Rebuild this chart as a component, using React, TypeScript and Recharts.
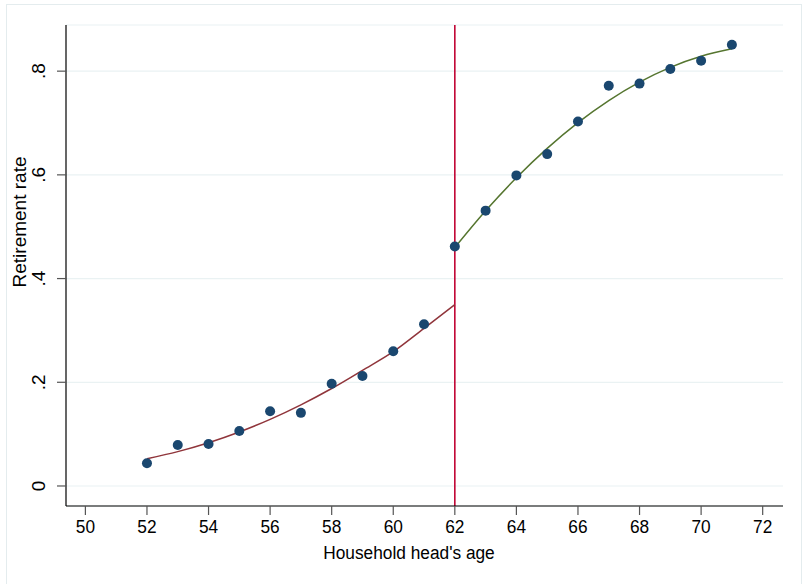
import React from "react";
import {
  ComposedChart,
  Scatter,
  Line,
  XAxis,
  YAxis,
  CartesianGrid,
  ReferenceLine,
} from "recharts";

const ages = [52, 53, 54, 55, 56, 57, 58, 59, 60, 61, 62, 63, 64, 65, 66, 67, 68, 69, 70, 71];
const rates = [
  0.044, 0.079, 0.081, 0.106, 0.144, 0.141, 0.197, 0.212, 0.26, 0.312,
  0.462, 0.531, 0.599, 0.64, 0.703, 0.772, 0.776, 0.804, 0.82, 0.851,
];

const leftAges = [52, 53, 54, 55, 56, 57, 58, 59, 60, 61, 62];
const leftFit = [0.0527, 0.0663, 0.0835, 0.1042, 0.1285, 0.1565, 0.188, 0.223, 0.259, 0.304, 0.3497];

const rightAges = [62, 63, 64, 65, 66, 67, 68, 69, 70, 71];
const rightFit = [0.4597, 0.5306, 0.5944, 0.651, 0.7007, 0.7433, 0.7788, 0.8073, 0.8286, 0.843];

const xTicks = [50, 52, 54, 56, 58, 60, 62, 64, 66, 68, 70, 72];
const yTicks = [0, 0.2, 0.4, 0.6, 0.8];
const yTickLabels = ["0", ".2", ".4", ".6", ".8"];
const cutoff = 62;

const points = ages.map((a, i) => ({ age: a, rate: rates[i] }));
const leftLine = leftAges.map((a, i) => ({ age: a, fit: leftFit[i] }));
const rightLine = rightAges.map((a, i) => ({ age: a, fit: rightFit[i] }));

const FONT = "'Liberation Sans', Arial, sans-serif";

const XTick = (props: any) => {
  const { x, y, payload } = props;
  return (
    <g transform={`translate(${x},${y + 10})`}>
      <text
        x={0}
        y={0}
        textAnchor="middle"
        dominantBaseline="central"
        fontFamily={FONT}
        fontSize={19}
        fill="#000"
        transform="scale(0.91,1)"
      >
        {payload.value}
      </text>
    </g>
  );
};

const YTick = (props: any) => {
  const { x, y, payload } = props;
  const idx = yTicks.indexOf(payload.value);
  const label = idx >= 0 ? yTickLabels[idx] : String(payload.value);
  return (
    <g transform={`translate(${x - 17},${y}) rotate(-90)`}>
      <text
        x={0}
        y={0}
        textAnchor="middle"
        dominantBaseline="central"
        fontFamily={FONT}
        fontSize={19}
        fill="#000"
      >
        {label}
      </text>
    </g>
  );
};

const Dot = (props: any) => {
  const { cx, cy } = props;
  if (cx == null || cy == null) return null;
  return <circle cx={cx} cy={cy} r={5} fill="#1a476f" />;
};

export default function App() {
  return (
    <div
      style={{
        position: "fixed",
        left: 0,
        top: 0,
        width: 804,
        height: 584,
        background: "#fff",
        overflow: "hidden",
      }}
    >
      <div
        style={{
          position: "absolute",
          left: 6,
          top: 4,
          width: 796,
          height: 600,
          border: "1px solid #e4ecee",
          boxSizing: "border-box",
        }}
      />
      <div style={{ position: "absolute", left: 0, top: 0 }}>
        <ComposedChart
          width={804}
          height={584}
          margin={{ top: 25, right: 21, left: 0, bottom: 0 }}
        >
          <CartesianGrid horizontal vertical={false} stroke="#eaf2f3" strokeWidth={1.2} />
          <XAxis
            type="number"
            dataKey="age"
            domain={[49.37, 72.66]}
            ticks={xTicks}
            allowDataOverflow
            height={78}
            tickSize={9}
            tickMargin={2}
            stroke="#000"
            tickLine={{ stroke: "#555", strokeWidth: 1.2 }}
            axisLine={{ stroke: "#000", strokeWidth: 1.2 }}
            tick={<XTick />}
            interval={0}
            label={{
              content: () => (
                <g transform="translate(409,553)">
                  <text
                    x={0}
                    y={0}
                    textAnchor="middle"
                    dominantBaseline="central"
                    fontFamily={FONT}
                    fontSize={19}
                    fill="#000"
                    transform="scale(0.91,1)"
                  >
                    Household head's age
                  </text>
                </g>
              ),
            }}
          />
          <YAxis
            type="number"
            domain={[-0.0386, 0.889]}
            ticks={yTicks}
            allowDataOverflow
            width={66}
            tickSize={9}
            tickMargin={2}
            tickLine={{ stroke: "#555", strokeWidth: 1.2 }}
            axisLine={{ stroke: "#000", strokeWidth: 1.2 }}
            tick={<YTick />}
            interval={0}
            label={{
              content: () => (
                <g transform="translate(19,222) rotate(-90)">
                  <text
                    x={0}
                    y={0}
                    textAnchor="middle"
                    dominantBaseline="central"
                    fontFamily={FONT}
                    fontSize={19}
                    fill="#000"
                  >
                    Retirement rate
                  </text>
                </g>
              ),
            }}
          />
          <ReferenceLine x={cutoff} stroke="#c10534" strokeWidth={1.6} />
          <Scatter
            data={points}
            dataKey="rate"
            shape={<Dot />}
            isAnimationActive={false}
          />
          <Line
            data={leftLine}
            dataKey="fit"
            type="monotone"
            stroke="#90353b"
            strokeWidth={1.5}
            dot={false}
            activeDot={false}
            isAnimationActive={false}
          />
          <Line
            data={rightLine}
            dataKey="fit"
            type="monotone"
            stroke="#55752f"
            strokeWidth={1.5}
            dot={false}
            activeDot={false}
            isAnimationActive={false}
          />
        </ComposedChart>
      </div>
    </div>
  );
}
